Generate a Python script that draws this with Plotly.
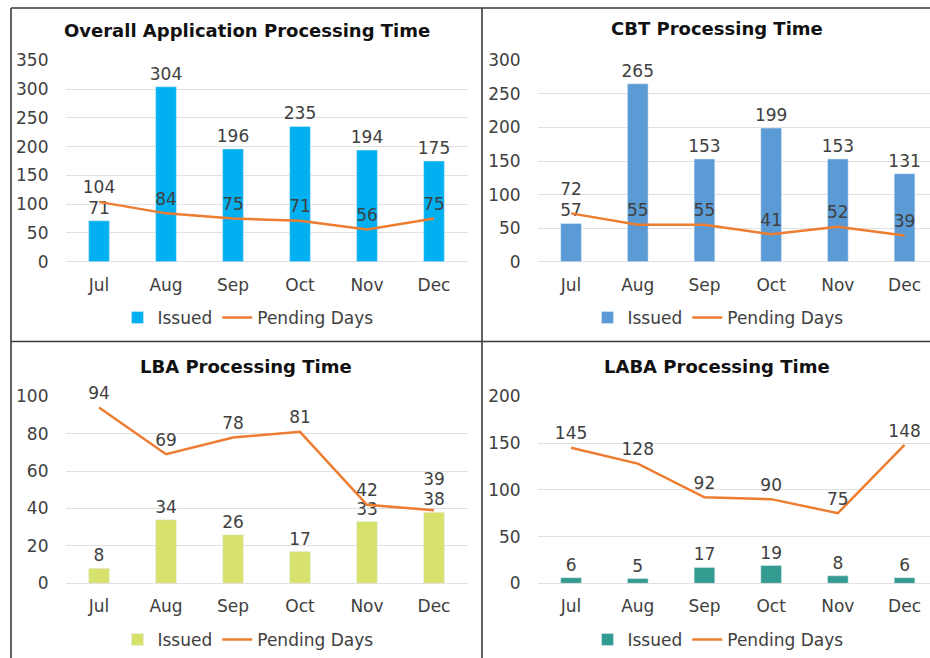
import plotly.graph_objects as go

months = ["Jul", "Aug", "Sep", "Oct", "Nov", "Dec"]

overall_issued = [71, 304, 196, 235, 194, 175]
overall_pending = [104, 84, 75, 71, 56, 75]

cbt_issued = [57, 265, 153, 199, 153, 131]
cbt_pending = [72, 55, 55, 41, 52, 39]

lba_issued = [8, 34, 26, 17, 33, 38]
lba_pending = [94, 69, 78, 81, 42, 39]

laba_issued = [6, 5, 17, 19, 8, 6]
laba_pending = [145, 128, 92, 90, 75, 148]

titles = ["Overall Application Processing Time", "CBT Processing Time",
          "LBA Processing Time", "LABA Processing Time"]
bar_colors = ["#00B0F0", "#5B9BD5", "#D7E26D", "#339B8F"]
y_ranges = [(0, 350, 50), (0, 300, 50), (0, 100, 20), (0, 200, 50)]
# invisible marker sizes used only to offset the line data labels
# (CBT Jul and LBA Dec labels lifted as in the original)
label_offsets = [
    [5, 5, 5, 5, 5, 5],
    [21, 5, 5, 5, 5, 5],
    [5, 5, 5, 5, 5, 32],
    [5, 5, 5, 5, 5, 5],
]

W, H = 930, 658
FONT = "DejaVu Sans"
TXT = "#404040"
LINE = "#ED7D31"

def fx(p):
    return p / W

def fy(p):
    return 1 - p / H

# pixel geometry of each panel: (left, right, top, bottom, xrange_max, title_x, title_y, legend_x, legend_y)
panels = [
    (65.5, 467.5, 60.3, 261.7, 5.5, 247, 31, 248, 318),
    (537.7, 930, 60.3, 261.7, -0.5 + (930 - 537.7) / 66.7, 717, 29, 718, 318),
    (65.5, 467.5, 396.3, 583.3, 5.5, 246, 366, 248, 640),
    (537.7, 930, 396.3, 583.3, -0.5 + (930 - 537.7) / 66.7, 717, 366, 718, 640),
]

series = [
    (overall_issued, overall_pending),
    (cbt_issued, cbt_pending),
    (lba_issued, lba_pending),
    (laba_issued, laba_pending),
]

fig = go.Figure()
layout = dict(
    width=W, height=H, margin=dict(l=0, r=0, t=0, b=0, autoexpand=False),
    paper_bgcolor="white", plot_bgcolor="white",
    font=dict(family=FONT, size=17, color=TXT),
    annotations=[], shapes=[], barmode="overlay",
)

for i, ((iss, pend), (l, r, t, b, xmax, tx, ty, lx, ly)) in enumerate(zip(series, panels)):
    n = "" if i == 0 else str(i + 1)
    lg = "legend" if i == 0 else f"legend{i + 1}"
    fig.add_trace(go.Bar(
        x=months, y=iss, name="Issued", marker_color=bar_colors[i],
        width=0.31, text=iss, textposition="outside", cliponaxis=False,
        constraintext="none",
        textfont=dict(family=FONT, size=17, color=TXT),
        xaxis="x" + n, yaxis="y" + n, legend=lg,
    ))
    fig.add_trace(go.Scatter(
        x=months, y=pend, name="Pending Days", mode="lines+markers+text",
        line=dict(color=LINE, width=2.5),
        marker=dict(size=label_offsets[i], color="rgba(0,0,0,0)",
                    line=dict(width=0, color="rgba(0,0,0,0)")),
        text=pend, textposition="top center",
        textfont=dict(family=FONT, size=17, color=TXT), cliponaxis=False,
        xaxis="x" + n, yaxis="y" + n, legend=lg,
    ))
    y0, y1, dt = y_ranges[i]
    layout["xaxis" + n] = dict(
        domain=[fx(l), fx(r)], anchor="y" + n, range=[-0.5, xmax],
        showgrid=False, showline=False, zeroline=False, ticks="",
        tickfont=dict(family=FONT, size=17, color=TXT), ticklabelstandoff=11,
        fixedrange=True,
    )
    layout["yaxis" + n] = dict(
        domain=[fy(b), fy(t)], anchor="x" + n, range=[y0, y1], dtick=dt,
        showgrid=True, gridcolor="#E0E0E0", gridwidth=1.3,
        zeroline=True, zerolinecolor="#E0E0E0", zerolinewidth=1.3,
        showline=False, ticks="",
        tickfont=dict(family=FONT, size=17, color=TXT), ticklabelstandoff=16,
        fixedrange=True,
    )
    layout["annotations"].append(dict(
        text=f"<b>{titles[i]}</b>", x=fx(tx), y=fy(ty), xref="paper", yref="paper",
        xanchor="center", yanchor="middle", showarrow=False,
        font=dict(family=FONT, size=18, color="#111111"),
    ))
    layout[lg] = dict(
        orientation="h", x=fx(lx), y=fy(ly), xanchor="center", yanchor="middle",
        bgcolor="rgba(0,0,0,0)", font=dict(family=FONT, size=17, color=TXT),
        itemwidth=30, traceorder="normal",
    )

# panel frame lines
frame = "#3A3A3A"
for (x0, y0_, x1, y1_) in [(11, 8, 930, 8), (11, 8, 11, 658), (482, 8, 482, 658), (11, 341.5, 930, 341.5)]:
    layout["shapes"].append(dict(
        type="line", xref="paper", yref="paper",
        x0=fx(x0), y0=fy(y0_), x1=fx(x1), y1=fy(y1_),
        line=dict(color=frame, width=1.6),
    ))

fig.update_layout(**layout)
post = ("document.body.style.margin='0';document.body.style.padding='0';"
        "var d=document.getElementById('{plot_id}');d.style.position='fixed';"
        "d.style.left='0px';d.style.top='0px';")
fig.write_html("out.html", post_script=post, config={"displayModeBar": False})
